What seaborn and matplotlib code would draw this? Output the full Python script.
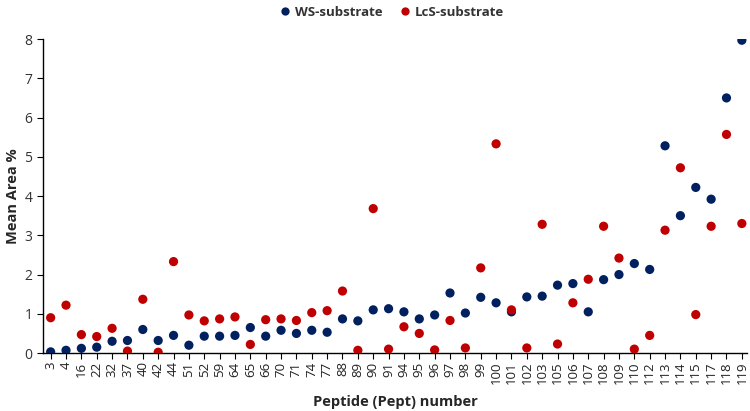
import matplotlib
matplotlib.use("Agg")
import matplotlib.pyplot as plt
import seaborn as sns
import pandas as pd

peptides = ["3", "4", "16", "22", "32", "37", "40", "42", "44", "51", "52", "59", "64", "65",
            "66", "70", "71", "74", "77", "88", "89", "90", "91", "94", "95", "96", "97", "98",
            "99", "100", "101", "102", "103", "105", "106", "107", "108", "109", "110", "112",
            "113", "114", "115", "117", "118", "119"]

ws_values = [0.03, 0.07, 0.12, 0.15, 0.30, 0.32, 0.60, 0.32, 0.45, 0.20, 0.43, 0.43, 0.45, 0.65,
             0.43, 0.58, 0.50, 0.58, 0.53, 0.87, 0.82, 1.10, 1.13, 1.05, 0.87, 0.97, 1.53, 1.02,
             1.42, 1.28, 1.05, 1.43, 1.45, 1.73, 1.77, 1.05, 1.87, 2.00, 2.28, 2.13,
             5.28, 3.50, 4.22, 3.92, 6.50, 7.97]

lcs_values = [0.90, 1.22, 0.47, 0.42, 0.63, 0.05, 1.37, 0.02, 2.33, 0.97, 0.82, 0.87, 0.92, 0.22,
              0.85, 0.87, 0.83, 1.03, 1.08, 1.58, 0.07, 3.68, 0.10, 0.67, 0.50, 0.08, 0.83, 0.13,
              2.17, 5.33, 1.10, 0.13, 3.28, 0.23, 1.28, 1.88, 3.23, 2.42, 0.10, 0.45,
              3.13, 4.72, 0.98, 3.23, 5.57, 3.30]

series_names = ["WS-substrate", "LcS-substrate"]
colors = ["#002060", "#C00000"]

df = pd.concat([
    pd.DataFrame({"Peptide": peptides, "Value": ws_values, "Series": series_names[0]}),
    pd.DataFrame({"Peptide": peptides, "Value": lcs_values, "Series": series_names[1]}),
])

sns.set_style("white")
plt.rcParams["font.family"] = ["Open Sans", "DejaVu Sans"]

fig = plt.figure(figsize=(7.5, 4.11), dpi=100)
ax = fig.add_axes([0.0573, 0.141, 0.939, 0.764])

sns.scatterplot(data=df, x="Peptide", y="Value", hue="Series", hue_order=series_names,
                palette=colors, s=44, linewidth=0, ax=ax, legend=True, zorder=3)

ax.set_xlim(-0.5, len(peptides) - 0.65)
ax.set_ylim(0, 8)
ax.set_yticks(range(0, 9))
ax.tick_params(axis="y", labelsize=10, length=4, direction="out", left=True, width=0.8, colors="black")
ax.tick_params(axis="x", labelsize=9.5, length=4, direction="out", bottom=True, width=0.8,
               labelrotation=90, colors="black", pad=2)
for lbl in ax.get_yticklabels():
    lbl.set_color("#333333")
for lbl in ax.get_xticklabels():
    lbl.set_color("#222222")

for side in ["top", "right"]:
    ax.spines[side].set_visible(False)
for side in ["left", "bottom"]:
    ax.spines[side].set_color("black")
    ax.spines[side].set_linewidth(1.0)

ax.set_xlabel("Peptide (Pept) number", fontsize=10.5, fontweight="bold", labelpad=8)
ax.set_ylabel("Mean Area %", fontsize=10.5, fontweight="bold", labelpad=3)

leg = ax.legend(loc="center", bbox_to_anchor=(0.495, 1.085), ncol=2, frameon=False,
                fontsize=9.5, handlelength=0.8, handletextpad=0.35, columnspacing=1.3,
                markerscale=0.9)
for t in leg.get_texts():
    t.set_fontweight("bold")
    t.set_color("#333333")

fig.savefig("out.png", dpi=100)
